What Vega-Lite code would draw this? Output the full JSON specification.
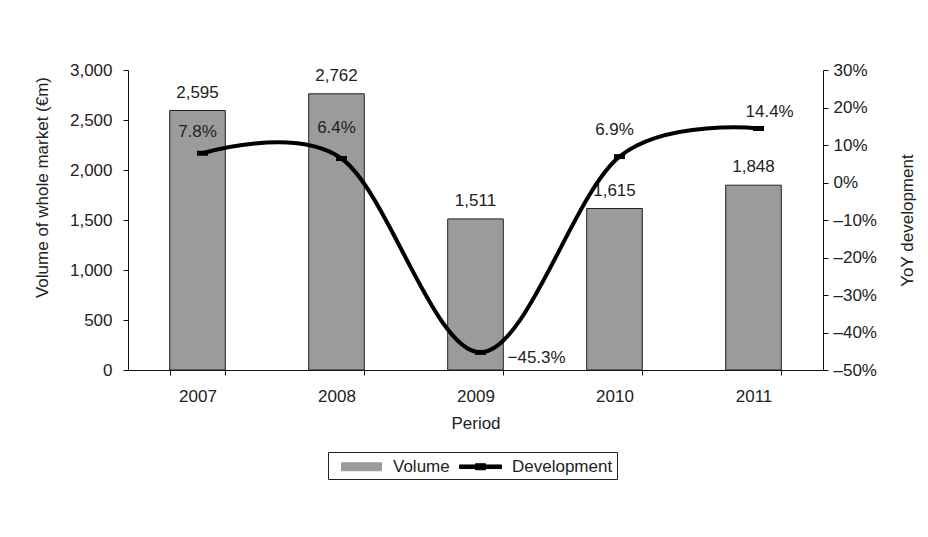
{
  "$schema": "https://vega.github.io/schema/vega-lite/v6.json",
  "width": 695,
  "height": 300,
  "autosize": "none",
  "padding": {"left": 128, "top": 70, "right": 105, "bottom": 167},
  "background": "white",
  "config": {
    "font": "Liberation Sans",
    "view": {"stroke": null},
    "axis": {"labelFont": "Liberation Sans", "titleFont": "Liberation Sans", "labelFontSize": 17, "titleFontSize": 17, "titleFontWeight": "normal", "labelColor": "#222", "titleColor": "#222", "domainColor": "#111", "tickColor": "#111", "grid": false, "labelOverlap": false},
    "legend": {"labelFont": "Liberation Sans", "labelFontSize": 17, "labelColor": "#222"}
  },
  "data": {
    "values": [
      {"period": "2007", "volume": 2595, "yoy": 0.078},
      {"period": "2008", "volume": 2762, "yoy": 0.064},
      {"period": "2009", "volume": 1511, "yoy": -0.453},
      {"period": "2010", "volume": 1615, "yoy": 0.069},
      {"period": "2011", "volume": 1848, "yoy": 0.144}
    ]
  },
  "encoding": {
    "x": {
      "field": "period", "type": "nominal",
      "scale": {"paddingInner": 0.6, "paddingOuter": 0.3},
      "axis": {"title": "Period", "labelAngle": 0, "tickBand": "extent", "tickSize": 5, "labelPadding": 13, "titlePadding": 11}
    }
  },
  "layer": [
    {
      "encoding": {
        "y": {"field": "volume", "type": "quantitative", "scale": {"domain": [0, 3000]},
          "axis": {"title": "Volume of whole market (€m)", "values": [0, 500, 1000, 1500, 2000, 2500, 3000], "labelExpr": "format(datum.value, ',')", "tickSize": 5, "labelPadding": 11, "titlePadding": 18, "titleY": 117}}
      },
      "layer": [
        {
          "mark": {"type": "bar", "stroke": "#222", "strokeWidth": 1},
          "encoding": {
            "color": {"datum": "Volume", "type": "nominal",
              "scale": {"domain": ["Volume", "Development"], "range": ["#9b9b9b", "#000000"]},
              "legend": {
                "title": null, "orient": "none", "legendX": 200, "legendY": 382, "direction": "horizontal",
                "strokeColor": "#222", "padding": 4, "columnPadding": 1, "labelOffset": 21, "symbolOffset": 19,
                "symbolSize": 400, "symbolStrokeWidth": 1, "symbolStrokeColor": "#222",
                "symbolType": {"expr": "datum.value === 'Volume' ? 'M-2,-0.4H2V0.4H-2Z' : 'M-2.1,-0.18H2.1V0.18H-2.1Z M-0.5,-0.3H0.5V0.3H-0.5Z'"},
                "symbolFillColor": {"expr": "datum.value === 'Volume' ? '#9b9b9b' : '#000'"}
              }}
          }
        },
        {
          "mark": {"type": "text", "baseline": "alphabetic", "dy": -13, "fontSize": 17, "color": "#222"},
          "encoding": {
            "text": {"field": "volume", "type": "quantitative", "format": ","}
          }
        }
      ]
    },
    {
      "encoding": {
        "y": {"field": "yoy", "type": "quantitative", "scale": {"domain": [-0.5, 0.3]},
          "axis": {"orient": "right", "title": "YoY development", "titleAngle": -90, "values": [-0.5, -0.4, -0.3, -0.2, -0.1, 0, 0.1, 0.2, 0.3],
            "labelExpr": "(datum.value < 0 ? '–' : '') + format(abs(datum.value), '.0%')", "tickSize": 5, "labelPadding": 5, "titlePadding": 40}}
      },
      "layer": [
        {
          "mark": {"type": "line", "interpolate": "cardinal", "tension": 0, "strokeWidth": 4, "xOffset": 5},
          "encoding": {
            "color": {"datum": "Development", "type": "nominal"}
          }
        },
        {
          "mark": {"type": "point", "shape": "M-1,-0.45H1V0.45H-1Z", "size": 121, "filled": true, "opacity": 1, "xOffset": 5},
          "encoding": {
            "color": {"datum": "Development", "type": "nominal"}
          }
        },
        {
          "transform": [{"filter": "datum.period === '2007'"}],
          "mark": {"type": "text", "baseline": "alphabetic", "dy": -16, "fontSize": 17, "color": "#222"},
          "encoding": {"text": {"field": "yoy", "type": "quantitative", "format": ".1%"}}
        },
        {
          "transform": [{"filter": "datum.period === '2008'"}],
          "mark": {"type": "text", "baseline": "alphabetic", "dy": -26, "fontSize": 17, "color": "#222"},
          "encoding": {"text": {"field": "yoy", "type": "quantitative", "format": ".1%"}}
        },
        {
          "transform": [{"filter": "datum.period === '2010'"}],
          "mark": {"type": "text", "baseline": "alphabetic", "dy": -22, "fontSize": 17, "color": "#222"},
          "encoding": {"text": {"field": "yoy", "type": "quantitative", "format": ".1%"}}
        },
        {
          "transform": [{"filter": "datum.period === '2009'"}],
          "mark": {"type": "text", "baseline": "alphabetic", "align": "left", "dx": 32, "dy": 11, "fontSize": 17, "color": "#222"},
          "encoding": {"text": {"field": "yoy", "type": "quantitative", "format": ".1%"}}
        },
        {
          "transform": [{"filter": "datum.period === '2011'"}],
          "mark": {"type": "text", "baseline": "alphabetic", "align": "left", "dx": -8, "dy": -12, "fontSize": 17, "color": "#222"},
          "encoding": {"text": {"field": "yoy", "type": "quantitative", "format": ".1%"}}
        }
      ]
    }
  ],
  "resolve": {"scale": {"y": "independent"}}
}
